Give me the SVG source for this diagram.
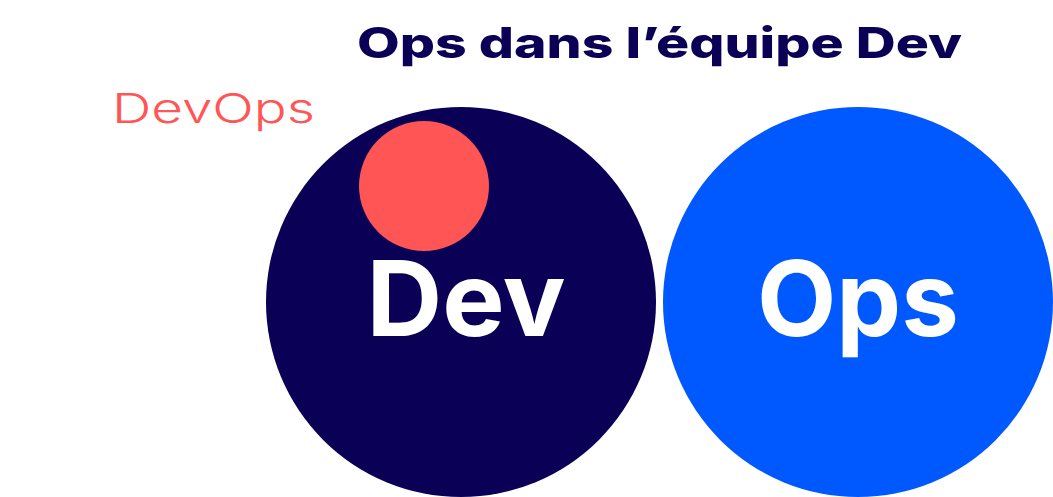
<svg xmlns="http://www.w3.org/2000/svg" width="1053" height="497" viewBox="0 0 1053 497">
  <style>
    .navy { fill: #0a0055; }
    .coral { fill: #ff5555; }
    .blue { fill: #0059ff; }
    .title { font-family: Inter, "Liberation Sans", sans-serif; font-weight: 800; font-size: 42px; fill: #0a0055; }
    .label { font-family: Inter, "Liberation Sans", sans-serif; font-weight: 300; font-size: 41px; fill: #ff5555; }
    .big { font-family: Inter, "Liberation Sans", sans-serif; font-weight: 700; font-size: 104px; fill: #ffffff; text-anchor: middle; }
  </style>
  <rect width="1053" height="497" fill="#ffffff"/>
  <g id="title">
    <text class="title" x="357" y="58" textLength="605" lengthAdjust="spacingAndGlyphs">Ops dans l’équipe Dev</text>
  </g>
  <g id="devops-label">
    <text class="label" x="112" y="123" textLength="203" lengthAdjust="spacingAndGlyphs">DevOps</text>
  </g>
  <g id="dev-node">
    <circle class="navy" cx="461" cy="302" r="195"/>
    <text class="big" x="466" y="336" textLength="199" lengthAdjust="spacingAndGlyphs">Dev</text>
  </g>
  <g id="devops-node">
    <circle class="coral" cx="424" cy="186" r="65"/>
  </g>
  <g id="ops-node">
    <circle class="blue" cx="858" cy="302" r="195"/>
    <text class="big" x="858" y="336" textLength="202" lengthAdjust="spacingAndGlyphs">Ops</text>
  </g>
  <g id="connectors"/>
</svg>
